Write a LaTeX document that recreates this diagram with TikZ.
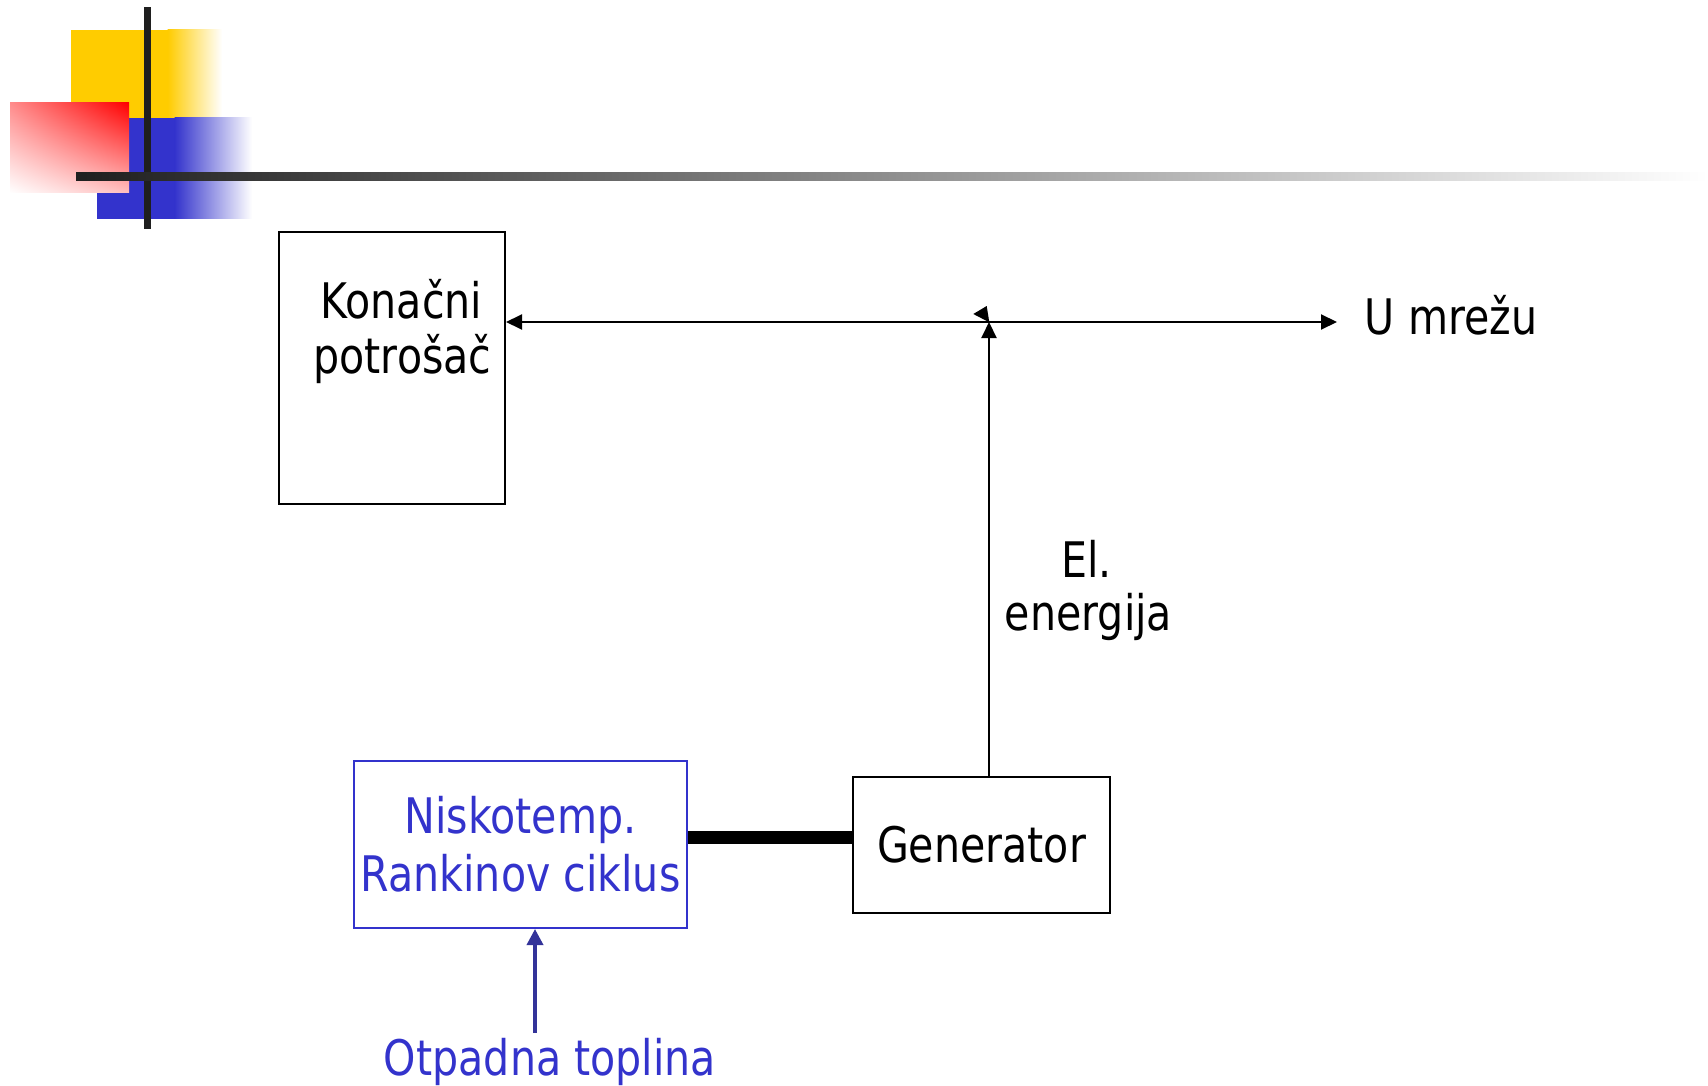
\documentclass[tikz,border=0pt]{standalone}
\usepackage{fontspec}
\setmainfont{DejaVu Sans}[FakeStretch=0.84]
\usetikzlibrary{arrows.meta,shadings}
\definecolor{rankblue}{HTML}{3333CC}
\definecolor{heatblue}{HTML}{333399}
\definecolor{logoyellow}{HTML}{FFCC00}
\definecolor{logoblue}{HTML}{3333CC}
\definecolor{logored}{HTML}{FF0000}
\definecolor{logobar}{HTML}{1F1F1F}

\begin{document}
\begin{tikzpicture}[x=1pt,y=-1pt,
  big/.style={font=\fontsize{49}{58}\selectfont},
  lbl/.style={big, inner sep=0pt, anchor=base},
  box/.style={draw=black, line width=2pt, inner sep=0pt},
  flow/.style={line width=2pt, -{Triangle[length=16pt,width=15pt]}},
  heatflow/.style={draw=heatblue, line width=3.5pt,
    -{Triangle[length=16pt,width=16pt]}},
  shaft/.style={line width=13pt}]
\useasboundingbox (0,0) rectangle (1708,1086);

% corner logo
\fill[logoyellow] (71,30) rectangle (168,119);
\shade[left color=logoyellow, right color=white] (167.5,30) rectangle (222,119);
\fill[logoblue] (97,118) rectangle (175,219);
\shade[left color=logoblue, right color=white] (174.5,118) rectangle (252,219);
\shade[upper right=logored, upper left=logored!45, lower right=logored!25,
  lower left=white] (10,103) rectangle (129,193);
\fill[logobar] (144,7) rectangle (151,229);
\shade[left color=logobar, right color=white] (76,173) rectangle (1708,181);

% boxes
\node[box, minimum width=226pt, minimum height=272pt] (kon) at (392,368) {};
\node[lbl] (kon1) at (401.5,318) {Konačni};
\node[lbl] (kon2) at (402.5,373) {potrošač};

\node[box, big, minimum width=257pt, minimum height=136pt] (gen) at (981.5,845) {Generator};

\node[box, big, draw=rankblue, text=rankblue, align=center,
  minimum width=333pt, minimum height=167pt] (ork) at (520.5,844.5)
  {Niskotemp.\\Rankinov ciklus};

% labels
\node[lbl] (el1) at (1086.5,577) {El.};
\node[lbl] (el2) at (1088.5,630) {energija};
\node[lbl] (net) at (1451,334) {U mrežu};
\node[lbl, text=rankblue] (heat) at (550,1075) {Otpadna toplina};

% connectors
\coordinate (j) at (989,322);
\coordinate (netend) at (1337,322);
\coordinate (heatsrc) at (535,1033);
\draw[flow] (j) -- (j -| kon.east);
\draw[flow] (j) -- (netend);
\draw[flow] (gen.north -| j) -- (j);
\fill (973.3,314) -- (986.7,306) -- (989.3,322.3) -- cycle;
\draw[shaft] ([yshift=7pt]ork.east) -- ([yshift=7pt]ork.east -| gen.west);
\draw[heatflow] (heatsrc) -- (heatsrc |- ork.south);
\end{tikzpicture}
\end{document}
